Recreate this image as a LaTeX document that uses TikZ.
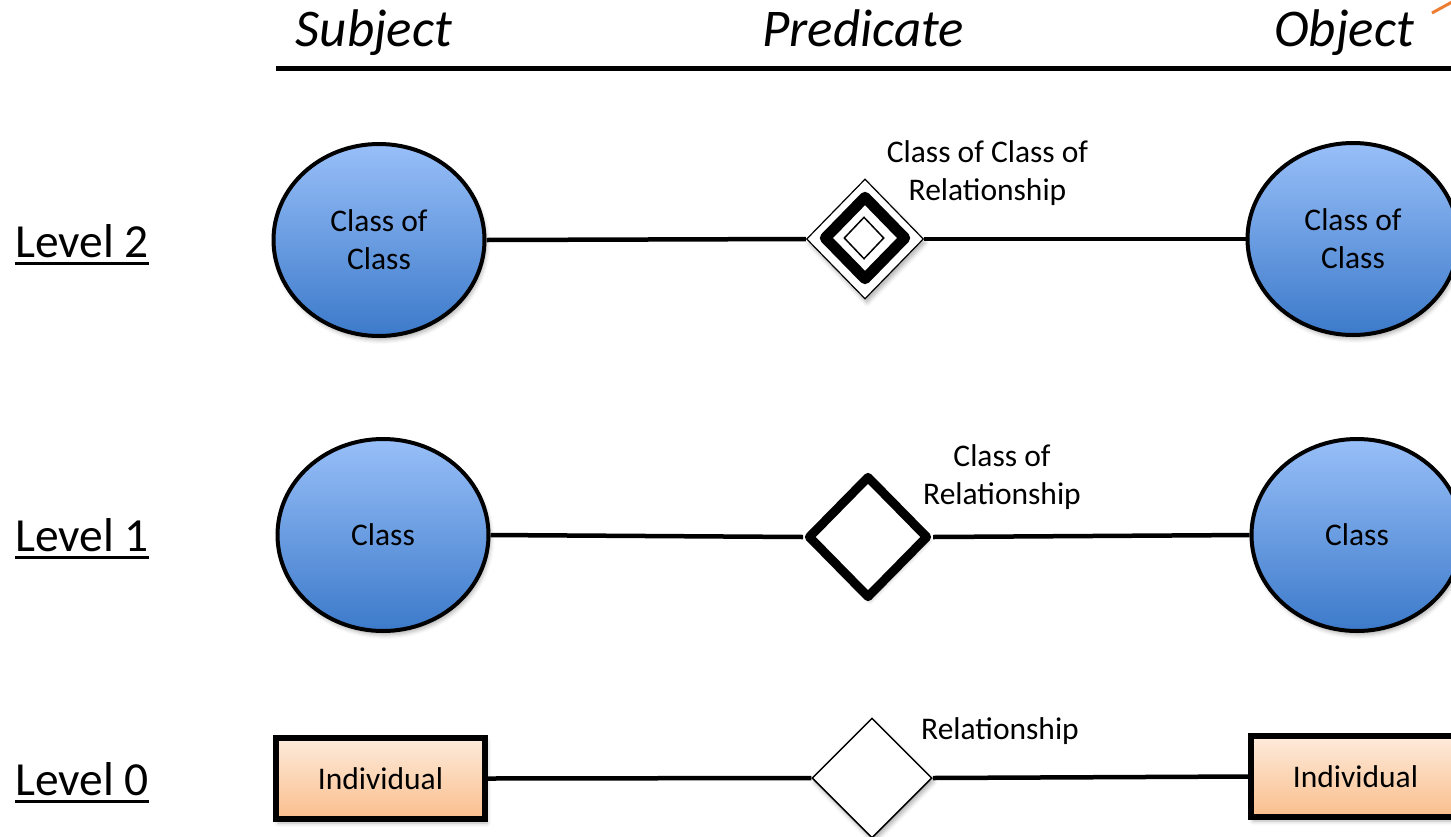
\documentclass[tikz,border=0pt]{standalone}
\usepackage{fontspec}
\setmainfont{Carlito}
\usetikzlibrary{shapes.geometric,shadows.blur}

\definecolor{blueTop}{RGB}{152,191,248}
\definecolor{blueBot}{RGB}{60,122,202}
\definecolor{peachTop}{RGB}{253,235,220}
\definecolor{peachBot}{RGB}{250,190,140}
\definecolor{accentOrange}{RGB}{237,125,49}

\tikzset{
  softshadow/.style={blur shadow={shadow xshift=2pt, shadow yshift=-4pt,
      shadow blur radius=4pt, shadow opacity=30}},
  classnode/.style={ellipse, draw=black, line width=4pt,
      top color=blueTop, bottom color=blueBot,
      minimum width=211pt, minimum height=192pt, inner sep=0pt,
      align=center, font=\fontsize{31.5}{38}\selectfont, softshadow},
  indivnode/.style={rectangle, draw=black, line width=6pt,
      top color=peachTop, bottom color=peachBot,
      minimum width=209pt, minimum height=81pt, inner sep=0pt,
      font=\fontsize{31.5}{38}\selectfont, softshadow},
  relnode/.style={diamond, draw=black, fill=white, inner sep=0pt, softshadow},
  plaindia/.style={diamond, draw=black, inner sep=0pt},
  relabel/.style={align=center, inner sep=0pt, font=\fontsize{31.5}{38}\selectfont},
  header/.style={anchor=base, inner sep=0pt, font=\fontsize{53}{60}\selectfont\itshape},
  levelname/.style={anchor=base west, inner sep=0pt, font=\fontsize{47.5}{56}\selectfont},
  connector/.style={draw=black, line width=4.5pt},
  underrule/.style={line width=3pt},
}

\begin{document}
\begin{tikzpicture}[x=1pt,y=-1pt]
\useasboundingbox (0,0) rectangle (1451,836);
\clip (0,0) rectangle (1451,836);

% column headings and rule
\node[header] (subj) at (374,46) {Subject};
\node[header] (pred) at (863,46) {Predicate};
\node[header] (obj) at (1344,46) {Object};
\coordinate (ruleL) at (276,68);
\coordinate (ruleR) at (1460,68);
\draw[line width=5pt] (ruleL) -- (ruleR);
\coordinate (accA) at (1432,13);
\coordinate (accB) at (1472,-9);
\draw[accentOrange, line width=3pt] (accA) -- (accB);

% level names
\node[levelname] (lv2) at (15,257) {Level 2};
\node[levelname] (lv1) at (15,551) {Level 1};
\node[levelname] (lv0) at (15,795) {Level 0};
\foreach \n in {lv2,lv1,lv0}
  \draw[underrule] ([yshift=-6pt]\n.base west) -- ([yshift=-6pt]\n.base east);

% level 2
\node[classnode] (cc1) at (379,240) {Class of\\Class};
\node[classnode] (cc2) at (1353,239) {Class of\\Class};
\node[relnode, minimum width=117pt, minimum height=120pt, line width=1.2pt] (d2) at (865,239) {};
\node[plaindia, minimum width=84pt, minimum height=86pt, line width=11pt, line join=round] (d2b) at (865,238) {};
\node[plaindia, minimum width=40pt, minimum height=42pt, line width=1.5pt] (d2c) at (864,238) {};
\draw[connector] (cc1.east) -- (d2.west);
\draw[connector] (d2.east) -- (cc2.west);
\node[relabel] (t2) at (987.5,173) {Class of Class of\\Relationship};

% level 1
\node[classnode] (c1) at (383,535) {Class};
\node[classnode] (c2) at (1357,535) {Class};
\node[relnode, minimum width=121pt, minimum height=123pt, line width=9pt, line join=round] (d1) at (868,537) {};
\draw[connector] (c1.east) -- (d1.west);
\draw[connector] (d1.east) -- (c2.west);
\node[relabel] (t1) at (1002,477) {Class of\\Relationship};

% level 0
\node[indivnode] (i1) at (380.5,778.5) {Individual};
\node[indivnode] (i2) at (1355.5,776.5) {Individual};
\node[relnode, minimum width=120pt, minimum height=120pt, line width=1.5pt] (d0) at (872,778) {};
\draw[connector] (i1.east) -- (d0.west);
\draw[connector] (d0.east) -- (i2.west);
\node[relabel] (t0) at (1000,731) {Relationship};
\end{tikzpicture}
\end{document}
